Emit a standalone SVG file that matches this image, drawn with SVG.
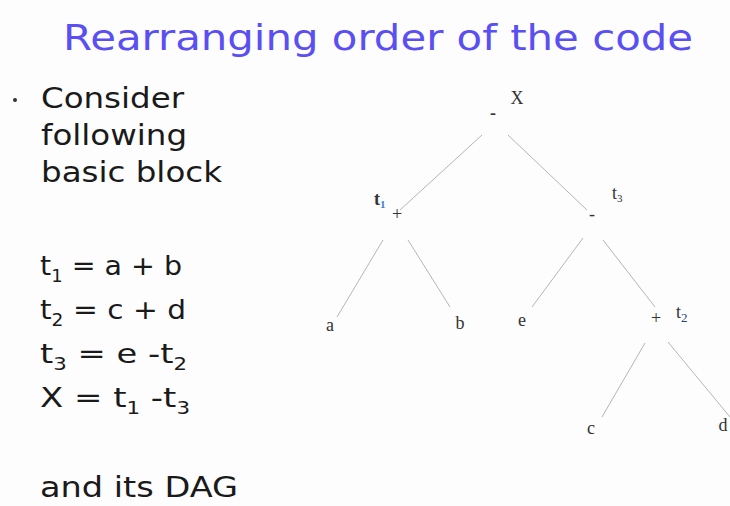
<svg xmlns="http://www.w3.org/2000/svg" width="730" height="506" viewBox="0 0 730 506">
<style>
.title{font-family:"DejaVu Sans","Liberation Sans",sans-serif;font-size:36px;fill:#5a4ff2}
.body{font-family:"DejaVu Sans","Liberation Sans",sans-serif;font-size:29px;fill:#1a1a1a}
.eq{font-family:"DejaVu Sans","Liberation Sans",sans-serif;font-size:27px;fill:#1a1a1a}
.sub{font-size:17px}
.lbl{font-family:"Liberation Serif","Times New Roman",serif;font-size:18px;fill:#333}
.op{font-family:"Liberation Serif","Times New Roman",serif;font-size:18px;fill:#333}
.edge{stroke:#b5b5b5;stroke-width:1;fill:none}
</style>
<rect width="730" height="506" fill="#fdfdfe"/>
<text class="title" x="63" y="50" textLength="630" lengthAdjust="spacingAndGlyphs">Rearranging order of the code</text>
<circle cx="15" cy="100" r="2" fill="#333"/>
<text class="body" x="41" y="108" textLength="143" lengthAdjust="spacingAndGlyphs">Consider</text>
<text class="body" x="41" y="145" textLength="146" lengthAdjust="spacingAndGlyphs">following</text>
<text class="body" x="41" y="182" textLength="181" lengthAdjust="spacingAndGlyphs">basic block</text>
<text class="eq" x="40" y="275" textLength="142" lengthAdjust="spacingAndGlyphs">t<tspan class="sub" dy="7">1</tspan><tspan dy="-7"> = a + b</tspan></text>
<text class="eq" x="40" y="319" textLength="146" lengthAdjust="spacingAndGlyphs">t<tspan class="sub" dy="7">2</tspan><tspan dy="-7"> = c + d</tspan></text>
<text class="eq" x="40" y="363" textLength="147" lengthAdjust="spacingAndGlyphs">t<tspan class="sub" dy="7">3</tspan><tspan dy="-7"> = e -t</tspan><tspan class="sub" dy="7">2</tspan></text>
<text class="eq" x="40" y="407" textLength="150" lengthAdjust="spacingAndGlyphs">X = t<tspan class="sub" dy="7">1</tspan><tspan dy="-7"> -t</tspan><tspan class="sub" dy="7">3</tspan></text>
<text class="body" x="40" y="497" textLength="198" lengthAdjust="spacingAndGlyphs">and its DAG</text>
<g id="connectors">
<line class="edge" x1="482" y1="135" x2="400" y2="210"/>
<line class="edge" x1="508" y1="135" x2="587" y2="210"/>
<line class="edge" x1="383" y1="240" x2="337" y2="317"/>
<line class="edge" x1="408" y1="240" x2="450" y2="307"/>
<line class="edge" x1="583" y1="238" x2="532" y2="307"/>
<line class="edge" x1="603" y1="240" x2="655" y2="307"/>
<line class="edge" x1="645" y1="343" x2="602" y2="417"/>
<line class="edge" x1="668" y1="342" x2="730" y2="417"/>
</g>
<g id="node-X">
<text class="op" x="493" y="119" text-anchor="middle" font-weight="bold">-</text>
<text class="lbl" x="517" y="104" text-anchor="middle" font-size="20">X</text>
</g>
<g id="node-t1">
<text class="op" x="397" y="220" text-anchor="middle" fill="#999">+</text>
<text class="lbl" x="374" y="205" font-weight="bold">t<tspan font-size="11" dy="3" fill="#3a7fc8">1</tspan></text>
</g>
<g id="node-t3">
<text class="op" x="592" y="220" text-anchor="middle">-</text>
<text class="lbl" x="612" y="199">t<tspan font-size="11" dy="3">3</tspan></text>
</g>
<g id="node-a"><text class="lbl" x="330" y="331" text-anchor="middle">a</text></g>
<g id="node-b"><text class="lbl" x="460" y="329" text-anchor="middle">b</text></g>
<g id="node-e"><text class="lbl" x="522" y="326" text-anchor="middle">e</text></g>
<g id="node-t2">
<text class="op" x="656" y="324" text-anchor="middle">+</text>
<text class="lbl" x="676" y="318">t<tspan font-size="13" dy="4" fill="#2a3f8a">2</tspan></text>
</g>
<g id="node-c"><text class="lbl" x="591" y="434" text-anchor="middle">c</text></g>
<g id="node-d"><text class="lbl" x="723" y="431" text-anchor="middle">d</text></g>
</svg>
